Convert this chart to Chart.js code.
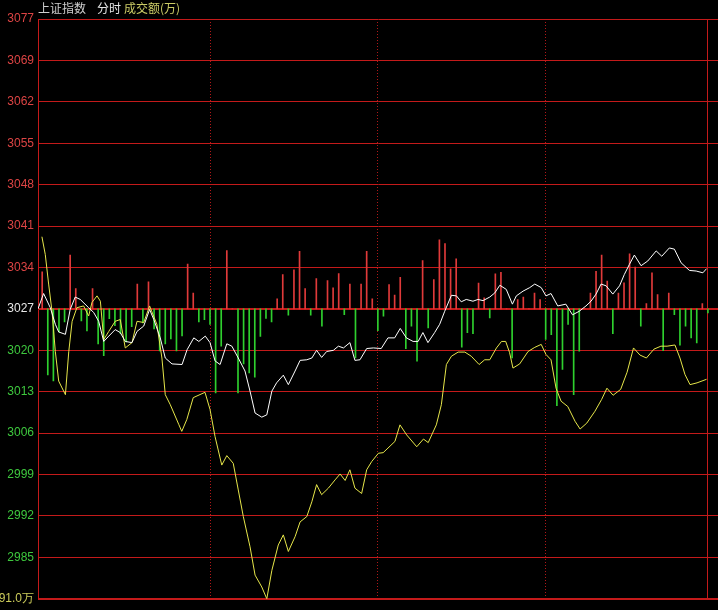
<!DOCTYPE html>
<html>
<head>
<meta charset="utf-8">
<script src="https://cdn.jsdelivr.net/npm/chart.js@4.4.0/dist/chart.umd.min.js"></script>
<style>
  html, body { margin: 0; padding: 0; background: #000; }
  #wrap { position: relative; width: 718px; height: 610px; background: #000; }
  #chart { position: absolute; left: 0; top: 0; }
  .ttl { position: absolute; top: 1px; font: 12px "Noto Sans CJK SC", sans-serif; line-height: 14px; white-space: nowrap; }
</style>
</head>
<body>
<div id="wrap">
  <canvas id="chart" width="718" height="610"></canvas>
  <span class="ttl" style="left:38px;color:#cfcfcf">上证指数</span>
  <span class="ttl" style="left:97px;color:#e6e6e6">分时</span>
  <span class="ttl" style="left:124px;color:#cccc66">成交额(万)</span>
</div>
<script>
// 上证指数 (white) - minutes from open, price
const indexMinutes = [
  -1.5, 0.5, 2.9, 4.7, 5.9, 8.3, 10.0, 11.8, 13.6, 16.6,
  18.4, 20.2, 22.0, 23.8, 26.1, 27.9, 29.7, 32.1, 33.9, 36.3,
  38.4, 39.9, 42.2, 44.0, 46.4, 50.0, 51.8, 54.2, 56.0, 58.3,
  60.0, 61.8, 63.6, 66.0, 67.8, 70.1, 72.5, 74.3, 76.1, 78.5,
  80.3, 82.1, 83.8, 86.2, 88.0, 90.4, 92.2, 94.6, 96.4, 98.1,
  99.9, 101.7, 104.1, 105.9, 107.7, 110.0, 111.8, 113.6, 116.0, 118.4,
  121.2, 123.6, 126.0, 128.0, 130.2, 132.6, 134.4, 136.1, 137.9, 140.3,
  142.1, 143.9, 146.3, 148.1, 149.8, 151.6, 154.0, 155.8, 157.6, 160.0,
  161.8, 163.6, 165.9, 168.1, 169.5, 171.9, 174.3, 176.1, 178.4, 180.1,
  181.9, 184.3, 187.2, 189.6, 192.0, 194.4, 196.2, 198.0, 199.8, 201.6,
  204.0, 206.4, 208.1, 209.9, 211.7, 214.1, 216.5, 219.5, 221.5, 224.2,
  226.0, 228.4, 231.4, 233.8, 236.2, 237.5
];
const indexPrices = [
  3027.0, 3029.6, 3027.2, 3024.4, 3023.1, 3022.7, 3026.9, 3029.0, 3028.6, 3027.2,
  3026.4, 3024.9, 3021.5, 3022.4, 3023.5, 3023.0, 3021.5, 3021.3, 3023.2, 3024.1,
  3026.9, 3025.2, 3022.1, 3018.7, 3017.7, 3017.6, 3020.1, 3022.1, 3021.5, 3022.4,
  3021.3, 3018.2, 3017.6, 3021.1, 3020.7, 3018.7, 3016.5, 3013.1, 3009.4, 3008.7,
  3009.1, 3013.1, 3014.5, 3015.8, 3014.2, 3016.5, 3018.3, 3018.4, 3018.7, 3020.0,
  3018.8, 3019.8, 3020.0, 3020.7, 3020.4, 3021.3, 3018.3, 3018.4, 3020.3, 3020.4,
  3020.3, 3022.1, 3022.1, 3023.7, 3022.1, 3021.5, 3021.5, 3023.0, 3021.3, 3023.0,
  3024.4, 3026.6, 3029.3, 3029.2, 3028.2, 3028.6, 3028.3, 3028.6, 3028.4, 3029.0,
  3029.7, 3031.0, 3030.3, 3027.8, 3029.2, 3030.0, 3030.6, 3031.2, 3030.6, 3029.2,
  3029.6, 3027.5, 3027.8, 3026.0, 3026.6, 3027.5, 3028.3, 3029.5, 3031.2, 3030.9,
  3029.5, 3030.9, 3032.8, 3034.5, 3036.1, 3034.3, 3035.1, 3036.8, 3035.9, 3037.3,
  3037.1, 3034.8, 3033.5, 3033.4, 3033.1, 3033.8
];

// yellow line (不含加权)
const leadMinutes = [
  -0.1, 1.1, 2.3, 3.5, 4.7, 5.9, 8.3, 9.5, 10.7, 12.4,
  14.8, 16.6, 17.8, 19.6, 20.8, 22.0, 23.8, 26.1, 27.9, 29.7,
  32.1, 33.9, 36.3, 38.4, 41.0, 42.8, 44.0, 45.8, 48.8, 49.9,
  51.7, 54.0, 58.2, 60.0, 61.8, 64.2, 66.0, 68.3, 70.1, 71.9,
  74.3, 76.1, 78.5, 80.3, 82.1, 84.4, 86.2, 88.0, 90.4, 92.2,
  94.6, 96.4, 98.1, 99.9, 102.3, 104.7, 106.5, 108.3, 110.0, 111.8,
  114.2, 116.0, 117.8, 120.2, 121.9, 126.1, 127.9, 130.3, 133.9, 136.3,
  138.0, 140.9, 142.7, 144.5, 146.3, 148.7, 151.1, 153.4, 156.2, 158.2,
  160.0, 162.4, 164.2, 165.7, 167.1, 168.3, 170.7, 173.7, 176.1, 178.4,
  180.1, 181.9, 183.7, 185.5, 187.9, 190.5, 192.3, 194.7, 197.6, 200.0,
  201.9, 204.1, 206.8, 209.1, 211.4, 213.7, 216.0, 218.7, 221.2, 223.4,
  226.2, 228.0, 229.8, 231.6, 234.1, 237.5
];
const leadPrices = [
  3039.2, 3036.2, 3031.2, 3026.6, 3019.8, 3014.8, 3012.5, 3019.8, 3024.9, 3027.2,
  3027.5, 3025.8, 3028.1, 3029.2, 3028.3, 3021.8, 3023.2, 3024.9, 3025.2, 3020.4,
  3021.3, 3024.9, 3024.7, 3027.5, 3024.4, 3018.7, 3012.5, 3010.8, 3007.5, 3006.3,
  3008.3, 3012.0, 3012.9, 3010.0, 3005.4, 3000.6, 3002.2, 3000.9, 2996.4, 2991.9,
  2986.8, 2982.0, 2980.0, 2978.0, 2982.8, 2987.1, 2988.8, 2986.0, 2988.5, 2991.0,
  2991.9, 2994.4, 2997.3, 2995.6, 2996.7, 2998.1, 2999.1, 2998.0, 2999.8, 2996.7,
  2995.8, 2999.8, 3001.2, 3002.6, 3002.7, 3004.6, 3007.4, 3005.7, 3003.7, 3005.0,
  3004.4, 3007.4, 3010.8, 3017.6, 3019.0, 3019.7, 3019.7, 3019.0, 3017.6, 3018.4,
  3018.4, 3020.4, 3021.5, 3021.5, 3019.6, 3017.0, 3017.7, 3019.8, 3020.5, 3021.0,
  3019.3, 3018.4, 3013.6, 3011.4, 3010.5, 3008.0, 3006.7, 3007.7, 3009.7, 3011.7,
  3013.6, 3012.4, 3013.4, 3016.3, 3020.4, 3019.2, 3018.7, 3020.2, 3020.7, 3020.7,
  3020.9, 3018.7, 3015.9, 3014.2, 3014.5, 3015.1
];

// 成交额(万), one bar every 2 minutes, + red / - green
const barValues = [
  11.6, -20.7, -22.6, -7.2, -4.1, 16.9, 6.4, -3.8, -6.9, 6.4,
  -11.0, -14.7, -3.1, -5.3, -7.8, -10.4, -5.6, 7.8, -4.4, 8.5,
  -6.3, -13.2, -11.0, -9.4, -13.2, -8.5, 14.1, 5.0, -4.1, -3.4,
  -4.9, -26.4, -11.7, 18.3, 0, -26.4, -17.3, -20.1, -21.4, -8.6,
  -3.0, -4.1, 3.2, 10.8, -2.0, 12.3, 18.1, 6.4, -2.0, 9.5,
  -5.4, 8.9, 6.6, 11.1, -1.8, 7.8, -15.4, 7.8, 18.1, 3.2,
  -6.8, -2.3, 7.6, 4.3, 9.9, -12.5, -5.4, -16.4, 15.2, -6.0,
  9.2, 21.7, 20.5, 12.6, 15.7, -12.0, -7.5, -7.8, 8.1, 3.5,
  -2.8, 11.0, 11.5, 0, -15.4, 2.9, 3.7, 0, 5.0, 2.9,
  -9.6, -8.1, -30.4, -19.0, -4.9, -26.9, -13.3, 0, 5.0, 11.8,
  16.9, 8.7, -7.8, 5.0, 8.2, 17.3, 13.1, -5.4, 1.7, 11.3,
  4.5, -13.1, 5.0, -1.8, -11.4, -5.4, -9.1, -10.7, 1.7, -1.3
];
const barMinutes = barValues.map((v, i) => i * 2);

// y axis: ticks bottom -> top, labels top -> bottom as on screen
const tickValues = [2978, 2985, 2992, 2999, 3006, 3013, 3020, 3027, 3034, 3041, 3048, 3055, 3062, 3069, 3076];
const tickLabels = ["91.0万", "2985", "2992", "2999", "3006", "3013", "3020", "3027", "3034", "3041", "3048", "3055", "3062", "3069", "3077"];
const prevClose = 3027;
const hourMarks = [60, 120, 180];
const endMark = 237.9;
const amountMax = 91.0;

const RED = '#c41a1a';

function labelColor(i) {
  if (i === 0) return '#cccc5a';
  if (tickValues[i] < prevClose) return '#3ec83e';
  if (tickValues[i] === prevClose) return '#e8e8e8';
  return '#dd4444';
}

const ctx = document.getElementById('chart').getContext('2d');
new Chart(ctx, {
  data: {
    datasets: [
      {
        type: 'line',
        label: '上证指数',
        data: indexMinutes.map((t, i) => ({ x: t, y: indexPrices[i] })),
        borderColor: '#ffffff',
        borderWidth: 1,
        pointRadius: 0,
        tension: 0,
        yAxisID: 'y',
        order: 1
      },
      {
        type: 'line',
        label: '不含加权',
        data: leadMinutes.map((t, i) => ({ x: t, y: leadPrices[i] })),
        borderColor: '#e6e64a',
        borderWidth: 1,
        pointRadius: 0,
        tension: 0,
        yAxisID: 'y',
        order: 2
      },
      {
        type: 'bar',
        label: '成交额(万)',
        data: barValues.map((v, i) => ({ x: barMinutes[i], y: v })),
        backgroundColor: barValues.map(v => v >= 0 ? '#e03a3a' : '#2ed02e'),
        barThickness: 1,
        yAxisID: 'y2',
        order: 3
      }
    ]
  },
  options: {
    responsive: false,
    animation: false,
    devicePixelRatio: 1,
    layout: { padding: { top: 19, bottom: 11, left: 0, right: 0 } },
    plugins: { legend: { display: false }, tooltip: { enabled: false } },
    scales: {
      x: {
        type: 'linear', min: -1.5, max: 241.6, offset: false,
        afterBuildTicks: s => { s.ticks = [{ value: endMark }]; },
        afterFit: s => { s.height = 0; },
        ticks: { display: false },
        grid: { color: RED, lineWidth: 1, drawTicks: false, offset: false },
        border: { display: false }
      },
      x2: {
        type: 'linear', position: 'bottom', min: -1.5, max: 241.6, offset: false,
        afterBuildTicks: s => { s.ticks = hourMarks.map(v => ({ value: v })); },
        afterFit: s => { s.height = 0; },
        ticks: { display: false },
        grid: { color: '#b01818', lineWidth: 1, drawTicks: false, offset: false },
        border: { display: false, dash: [1, 2] }
      },
      y: {
        type: 'linear', position: 'left', min: 2978, max: 3076,
        afterBuildTicks: s => { s.ticks = tickValues.map(v => ({ value: v })); },
        afterFit: s => { s.width = 38; },
        ticks: {
          padding: 4,
          font: { family: 'Liberation Sans, Arial, sans-serif', size: 12 },
          color: c => labelColor(c.index),
          callback: (v, i) => tickLabels[i]
        },
        grid: {
          color: RED,
          drawTicks: false,
          lineWidth: c => (c.tick && (c.tick.value === prevClose || c.tick.value === 2978)) ? 2 : 1
        },
        border: { display: true, color: RED, width: 1 }
      },
      y2: {
        type: 'linear', display: false, min: -amountMax, max: amountMax
      }
    }
  }
});
</script>
</body>
</html>
